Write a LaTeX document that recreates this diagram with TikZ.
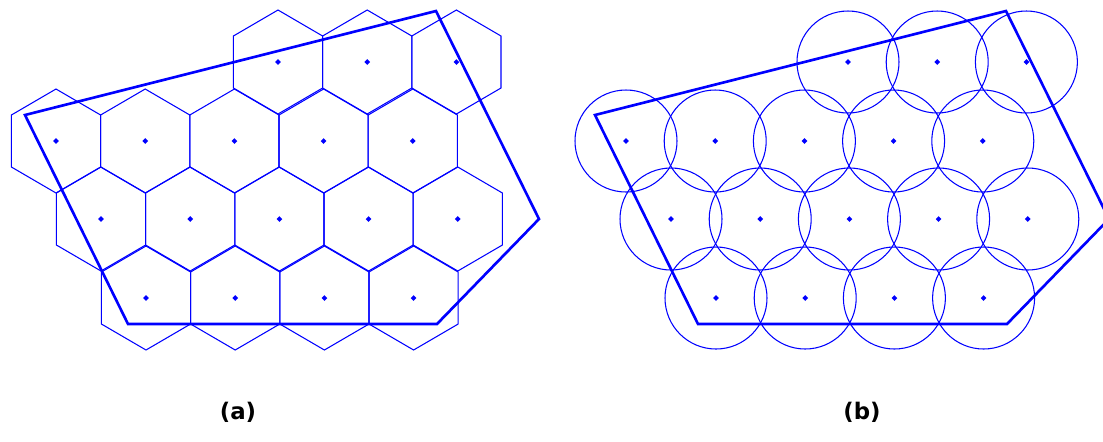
\documentclass[tikz,border=0pt]{standalone}
\usepackage{fontspec}
\setsansfont{DejaVu Sans}
\usetikzlibrary{shapes.geometric}

\tikzset{
  cell/.style={blue, line width=0.6pt},
  area/.style={blue, line width=1.5pt, line join=miter},
  site/.style={diamond, fill=blue, inner sep=0pt, minimum size=0.12cm},
  caption/.style={font=\sffamily\bfseries\fontsize{13}{15}\selectfont}
}

\begin{document}
\begin{tikzpicture}[x=0.02cm, y=-0.02cm]
  \clip (0,0) rectangle (1103,441);

  % (a) hexagonal cells
  \foreach \y/\x/\n [count=\r] in {62/278/2, 141/56/4, 219/101/4, 298/146/3} {
    \foreach \k in {0,...,\n} {
      \begin{scope}[shift={(\x+89.2*\k,\y)}]
        \draw[cell] (0,-52) -- (44.6,-26) -- (44.6,26) -- (0,52) -- (-44.6,26) -- (-44.6,-26) -- cycle;
        \node[site] (a-\r-\k) at (0,0) {};
      \end{scope}
    }
  }
  \draw[area] (25,115) -- (436,11) -- (539,219) -- (437,324) -- (128,324) -- cycle;

  % (b) circular cells
  \begin{scope}[shift={(570,0)}]
    \foreach \y/\x/\n [count=\r] in {62/278/2, 141/56/4, 219/101/4, 298/146/3} {
      \foreach \k in {0,...,\n} {
        \draw[cell] (\x+89.2*\k,\y) circle[radius=51];
        \node[site] (b-\r-\k) at (\x+89.2*\k,\y) {};
      }
    }
    \draw[area] (25,115) -- (436,11) -- (539,219) -- (437,324) -- (128,324) -- cycle;
  \end{scope}

  \node[caption] (capa) at (238,412) {(a)};
  \node[caption] (capb) at (862,412) {(b)};
\end{tikzpicture}
\end{document}
